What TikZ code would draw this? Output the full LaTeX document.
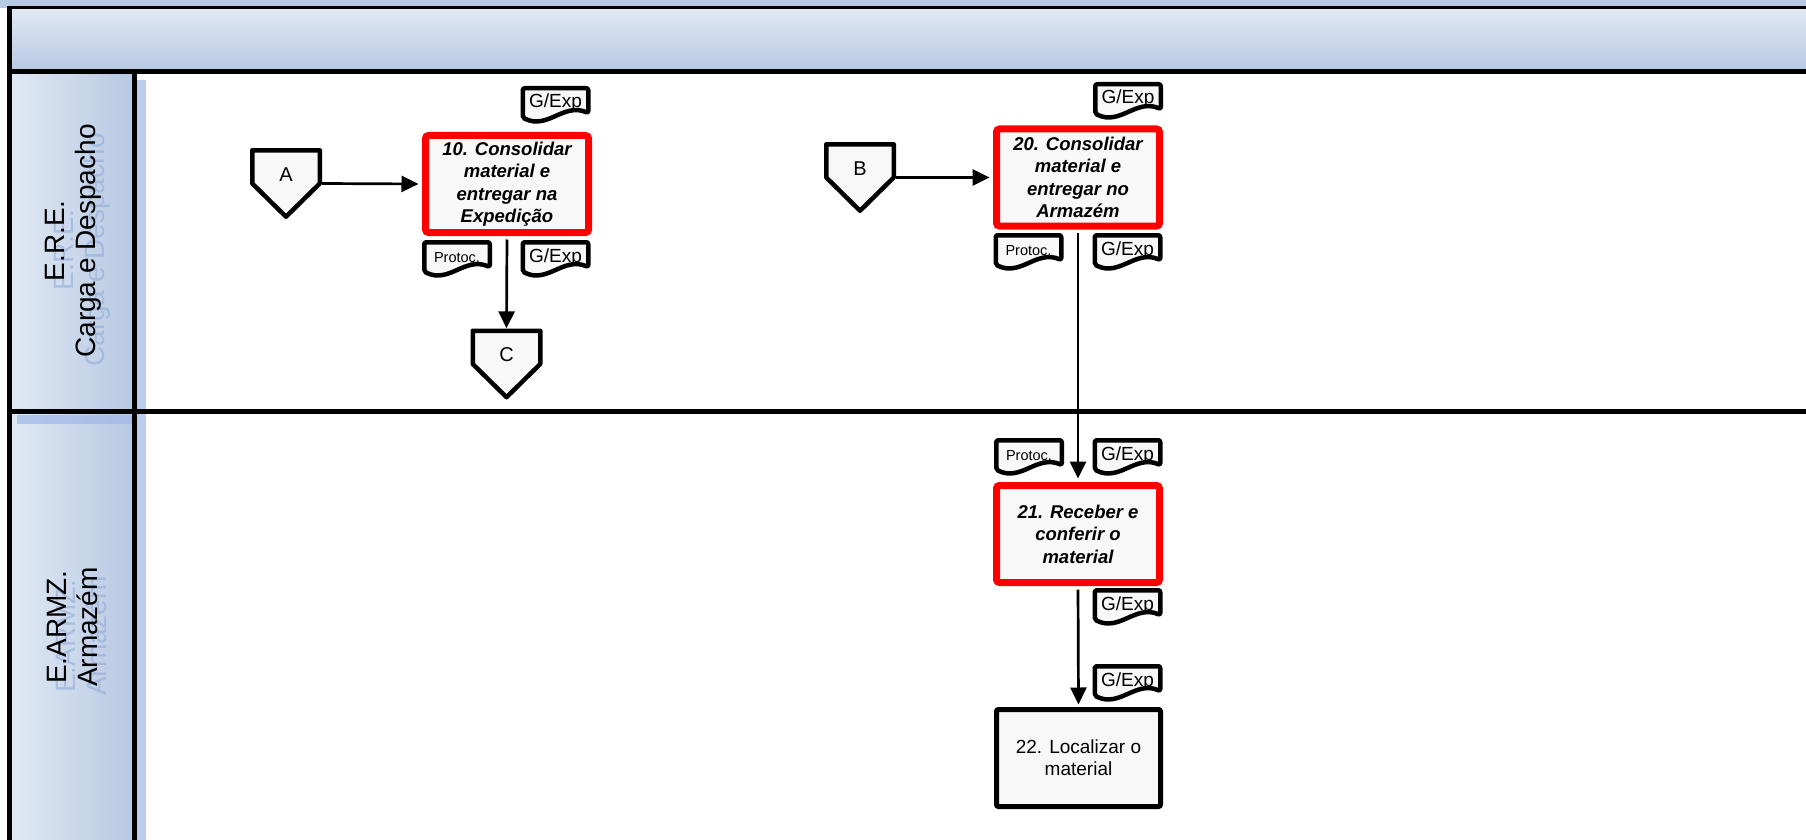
\documentclass[tikz,border=0pt]{standalone}
\usepackage{fontspec}
\setmainfont{Liberation Sans}
\usetikzlibrary{arrows.meta,calc}

\definecolor{bandlight}{RGB}{224,232,244}
\definecolor{banddark}{RGB}{184,201,227}
\definecolor{hatchblue}{RGB}{160,184,232}
\definecolor{ghostblue}{RGB}{140,168,214}
\definecolor{boxfill}{RGB}{248,248,248}
\definecolor{taskred}{RGB}{255,0,0}

\begin{document}
\begin{tikzpicture}[x=1pt,y=-1pt,
  frameline/.style={line width=5pt},
  lanetext/.style={align=center, inner sep=0pt, font=\fontsize{28}{31}\selectfont},
  ghosttext/.style={lanetext, text=ghostblue, opacity=0.55},
  task/.style={rectangle, fill=boxfill, draw=taskred, line width=7pt,
    rounded corners=3pt, minimum width=163pt, minimum height=97pt,
    inner sep=0pt, align=center,
    font=\fontsize{18.5}{22.5}\selectfont\bfseries\itshape},
  plaintask/.style={rectangle, fill=boxfill, draw=black, line width=5pt,
    rounded corners=2pt, minimum width=164pt, minimum height=97pt,
    inner sep=0pt, align=center, font=\fontsize{19}{22}\selectfont},
  docu/.style={rectangle, fill=white, inner sep=0pt, minimum width=70pt,
    minimum height=38pt, text height=11pt, text depth=5pt,
    font=\fontsize{19}{21}\selectfont,
    path picture={
      \draw[line width=4.5pt, fill=boxfill, line join=round, rounded corners=2pt]
        let \p1=([shift={(2.25,2.25)}]path picture bounding box.north west),
            \p2=([shift={(-2.25,-2.25)}]path picture bounding box.south east)
        in (\x1,\y1) -- (\x2,\y1) -- (\x2,{\y1+0.74*(\y2-\y1)})
           .. controls ({\x1+0.62*(\x2-\x1)},{\y1+0.42*(\y2-\y1)})
           and ({\x1+0.38*(\x2-\x1)},{\y1+1.25*(\y2-\y1)})
           .. (\x1,{\y1+0.88*(\y2-\y1)}) -- cycle;
    }},
  smalldocu/.style={docu, font=\fontsize{14.5}{17}\selectfont},
  offpage/.style={rectangle, fill=white, inner sep=0pt, minimum width=72pt,
    minimum height=71pt, text height=6pt, text depth=11pt,
    font=\fontsize{20}{22}\selectfont,
    path picture={
      \draw[line width=4.5pt, fill=boxfill, line join=round]
        let \p1=([shift={(2.25,2.25)}]path picture bounding box.north west),
            \p2=([shift={(-2.25,-2.25)}]path picture bounding box.south east)
        in (\x1,\y1) -- (\x2,\y1) -- (\x2,{0.5*(\y1+\y2)})
           -- ({0.5*(\x1+\x2)},\y2) -- (\x1,{0.5*(\y1+\y2)}) -- cycle;
    }},
  flow/.style={line width=2.7pt, -{Triangle[length=17pt,width=16pt]}}
]
\useasboundingbox (0,0) rectangle (1806,840);

% pool header band
\fill[banddark] (0,0) rectangle (1806,8);
\shade[top color=bandlight, bottom color=banddark] (9,8) rectangle (1806,71.5);

% lane title column
\shade[left color=bandlight, right color=banddark] (11,74) rectangle (132,840);

% shadow stripes beside the lane titles
\fill[hatchblue, opacity=0.7] (137,80) rectangle (146,840);
\fill[hatchblue, opacity=0.7] (17,415) rectangle (132,424);

% frame lines
\draw[line width=3pt] (7,8) -- (1806,8);
\draw[frameline] (6.5,71.5) -- (1806,71.5);
\draw[frameline] (9,6.5) -- (9,840);
\draw[frameline] (134,71.5) -- (134,840);
\draw[frameline] (6.5,411) -- (1806,411);

% lane titles
\node[ghosttext, rotate=90] (lane1g) at (82,250) {E.R.E.\\Carga e Despacho};
\node[lanetext, rotate=90] (lane1) at (73,241) {E.R.E.\\Carga e Despacho};
\node[ghosttext, rotate=90] (lane2g) at (82,636) {E.ARMZ.\\Armazém};
\node[lanetext, rotate=90] (lane2) at (73,627) {E.ARMZ.\\Armazém};

% connectors between lanes / pages
\node[offpage] (A) at (286,183.5) {A};
\node[offpage] (B) at (860,177.5) {B};
\node[offpage] (C) at (506.5,364) {C};

% activities
\node[task] (t10) at (507,184) {10. Consolidar\\material e\\entregar na\\Expedição};
\node[task] (t20) at (1078,177.5) {20. Consolidar\\material e\\entregar no\\Armazém};
\node[task] (t21) at (1078,534) {21. Receber e\\conferir o\\material};
\node[plaintask] (t22) at (1078.5,758) {22. Localizar o\\material};

% documents attached to the activities
\node[docu] (d10in) at (555.5,105) {G/Exp};
\node[smalldocu] (d10p) at (457,259) {Protoc.};
\node[docu] (d10out) at (555.5,259) {G/Exp};
\node[docu] (d20in) at (1128,101) {G/Exp};
\node[smalldocu] (d20p) at (1028.5,252) {Protoc.};
\node[docu] (d20out) at (1127.5,252) {G/Exp};
\node[smalldocu] (d21p) at (1029,457) {Protoc.};
\node[docu] (d21in) at (1127.5,457) {G/Exp};
\node[docu] (d21out) at (1127.5,607) {G/Exp};
\node[docu] (d22in) at (1127.5,683) {G/Exp};

% flow
\draw[flow, shorten >=3.5pt] (A.east) -- (t10.west);
\draw[flow, shorten >=3.5pt] (B.east) -- (t20.west);
\draw[flow, shorten <=3.5pt] (t10.south) -- (C.north);
\draw[flow, shorten <=3.5pt, shorten >=3.5pt] (t20.south) -- (t21.north);
\draw[flow, shorten <=3.5pt, shorten >=2.5pt] (t21.south) -- (t22.north);
\end{tikzpicture}
\end{document}
